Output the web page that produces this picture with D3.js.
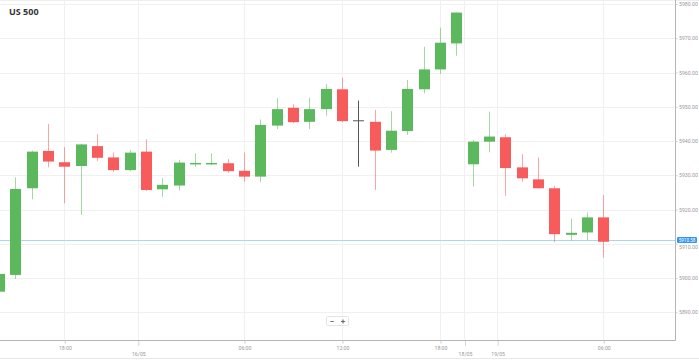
<!DOCTYPE html>
<html>
<head>
<meta charset="utf-8">
<script src="https://cdn.jsdelivr.net/npm/d3@7/dist/d3.min.js"></script>
<style>
  html, body { margin: 0; padding: 0; background: #fff; }
  svg { display: block; }
</style>
</head>
<body>
<svg id="chart" width="699" height="360"></svg>
<script>
// ---- Data (hourly candles) ----
const times = ["14:00","15:00","16:00","17:00","18:00","19:00","20:00","21:00","22:00",
  "00:00","01:00","02:00","03:00","04:00","05:00","06:00","07:00","08:00","09:00","10:00","11:00",
  "12:00","13:00","14:00","15:00","16:00","17:00","18:00","19:00",
  "22:00","23:00",
  "00:00","01:00","02:00","03:00","04:00","05:00","06:00"];
const opens  = [5896.0,5900.9,5926.2,5937.1,5933.8,5932.7,5938.5,5935.2,5931.5,
  5936.9,5925.9,5927.0,5933.4,5933.4,5933.5,5931.3,5929.6,5944.5,5949.7,5945.6,5949.3,
  5955.1,5945.9,5945.6,5937.4,5942.9,5955.1,5960.9,5968.5,
  5933.2,5939.8,
  5941.1,5932.3,5928.8,5926.2,5912.6,5913.3,5917.7];
const highs  = [5902.0,5929.4,5937.2,5945.0,5938.2,5939.2,5942.0,5936.6,5937.4,
  5940.5,5929.1,5934.5,5936.4,5936.4,5934.7,5936.6,5946.3,5952.5,5950.7,5952.6,5956.6,
  5958.5,5951.8,5949.1,5948.7,5957.8,5967.5,5973.1,5977.6,
  5940.3,5948.6,
  5942.0,5936.1,5935.2,5926.9,5917.3,5919.1,5924.2];
const lows   = [5895.0,5899.7,5923.0,5932.3,5921.8,5918.4,5934.2,5931.0,5931.2,
  5925.4,5923.7,5925.5,5932.5,5933.0,5930.7,5928.1,5928.0,5943.5,5945.2,5943.5,5947.4,
  5945.5,5932.5,5925.7,5936.6,5941.8,5953.9,5959.6,5964.9,
  5926.7,5936.7,
  5924.0,5928.1,5926.1,5910.4,5910.9,5911.1,5905.9];
const closes = [5901.2,5926.0,5936.9,5934.0,5932.5,5939.0,5935.1,5931.5,5936.6,
  5925.7,5927.2,5933.7,5933.6,5933.6,5931.2,5929.6,5944.7,5949.3,5945.5,5949.3,5955.2,
  5945.8,5945.9,5937.2,5943.0,5955.2,5960.9,5968.7,5977.5,
  5939.8,5941.3,
  5932.1,5929.1,5926.2,5912.8,5913.2,5917.7,5910.58];

// axis labels
const timeTickIdx    = [4, 15, 21, 27, 37];
const timeTickLabels = ["18:00", "06:00", "12:00", "18:00", "06:00"];
const dateTickIdx    = [8.5, 28.5, 30.5];
const dateTickLabels = ["16/05", "18/05", "19/05"];
const priceTicks = [5980, 5970, 5960, 5950, 5940, 5930, 5920, 5910, 5900, 5890];
const currentPrice = 5910.58;
const title = "US 500";

// ---- Layout ----
const svg = d3.select("#chart");
const W = 699, H = 360;
const plotRight = 675, plotBottom = 340;

const x = d3.scaleLinear().domain([0, 37]).range([-1.0, 603.3]);
const y = d3.scaleLinear().domain([5900, 5940]).range([278, 141]);

const green = "#5cb85c", red = "#f75b5b", doji = "#555";
const font = "Roboto, 'Liberation Sans', sans-serif";

// outer light borders
svg.append("line").attr("x1", 0).attr("x2", W).attr("y1", 0.5).attr("y2", 0.5).attr("stroke", "#eee");
svg.append("line").attr("x1", 0).attr("x2", W).attr("y1", 358.5).attr("y2", 358.5).attr("stroke", "#e8e8e8");

// horizontal grid
const grid = svg.append("g");
grid.selectAll("line.h").data(priceTicks).join("line")
  .attr("x1", 0).attr("x2", plotRight)
  .attr("y1", d => Math.round(y(d)) + 0.5).attr("y2", d => Math.round(y(d)) + 0.5)
  .attr("stroke", "#f0f0f0");
// vertical grid
grid.selectAll("line.v").data(timeTickIdx.concat(dateTickIdx)).join("line")
  .attr("x1", d => Math.round(x(d)) + 0.5).attr("x2", d => Math.round(x(d)) + 0.5)
  .attr("y1", 0).attr("y2", plotBottom)
  .attr("stroke", "#f0f0f0");

// current price line
svg.append("line")
  .attr("x1", 0).attr("x2", plotRight)
  .attr("y1", Math.round(y(currentPrice)) - 1.5).attr("y2", Math.round(y(currentPrice)) - 1.5)
  .attr("stroke", "#a9d5f7").attr("stroke-width", 1);

// candles
const n = times.length;
const data = d3.range(n).map(i => ({ i, o: opens[i], h: highs[i], l: lows[i], c: closes[i] }));
const bw = 10;
const cg = svg.append("g");
data.forEach(d => {
  const cx = Math.round(x(d.i)) + 0.5;
  let col = d.c > d.o ? green : (d.c < d.o ? red : doji);
  if (Math.abs(d.c - d.o) < 0.05) col = doji;
  cg.append("line")
    .attr("x1", cx).attr("x2", cx)
    .attr("y1", y(d.h)).attr("y2", y(d.l))
    .attr("stroke", col).attr("stroke-width", 1)
    .attr("stroke-opacity", col === doji ? 1 : 0.55);
  const top = y(Math.max(d.o, d.c)), bot = y(Math.min(d.o, d.c));
  if (col === doji) {
    cg.append("line").attr("x1", cx - bw / 2 - 0.5).attr("x2", cx + bw / 2 + 0.5)
      .attr("y1", top).attr("y2", top).attr("stroke", doji).attr("stroke-width", 1);
  } else {
    cg.append("rect")
      .attr("x", cx - bw / 2 - 0.5).attr("width", bw + 1)
      .attr("y", top).attr("height", Math.max(1.5, bot - top))
      .attr("fill", col);
  }
});

// axes lines
svg.append("line").attr("x1", plotRight + 0.5).attr("x2", plotRight + 0.5)
  .attr("y1", 0).attr("y2", plotBottom + 0.5).attr("stroke", "#b5b5b5");
svg.append("line").attr("x1", 0).attr("x2", plotRight + 0.5)
  .attr("y1", plotBottom + 0.5).attr("y2", plotBottom + 0.5).attr("stroke", "#b5b5b5");

// right axis
const yAxis = d3.axisRight(y).tickValues(priceTicks).tickSize(2).tickPadding(1.5)
  .tickFormat(d3.format(".2f"));
const ya = svg.append("g").attr("transform", `translate(${plotRight + 0.5},0)`).call(yAxis);
ya.select(".domain").remove();
ya.selectAll("line").attr("stroke", "#ccc");
ya.selectAll("text").attr("font-family", font).attr("font-size", 5.2).attr("fill", "#999");
// the 5910 label sits just under the current-price badge
ya.selectAll("text").filter(d => d === 5910).attr("dy", "0.95em");

// bottom time axis
const xAxis = d3.axisBottom(x).tickValues(timeTickIdx).tickSize(3).tickPadding(2.5)
  .tickFormat((d, k) => timeTickLabels[k]);
const xa = svg.append("g").attr("transform", `translate(0.5,${plotBottom + 0.5})`).call(xAxis);
xa.select(".domain").remove();
xa.selectAll("line").attr("stroke", "#ccc");
xa.selectAll("text").attr("font-family", font).attr("font-size", 5.2).attr("fill", "#999");

// date markers
const dAxis = d3.axisBottom(x).tickValues(dateTickIdx).tickSize(6).tickPadding(6)
  .tickFormat((d, k) => dateTickLabels[k]);
const da = svg.append("g").attr("transform", `translate(0.5,${plotBottom + 0.5})`).call(dAxis);
da.select(".domain").remove();
da.selectAll("line").attr("stroke", "#aaa").attr("stroke-dasharray", "1,1");
da.selectAll("text").attr("font-family", font).attr("font-size", 5.2).attr("fill", "#999");

// current price badge
const cy = Math.round(y(currentPrice)) - 1.5;
svg.append("rect").attr("x", 677).attr("y", cy - 3.5).attr("width", 20).attr("height", 6)
  .attr("rx", 1.2).attr("fill", "#2f96ef");
svg.append("text").attr("x", 687).attr("y", cy + 1.1).attr("text-anchor", "middle")
  .attr("font-family", font).attr("font-size", 4.6).attr("fill", "#fff")
  .text(d3.format(".2f")(currentPrice));

// title
svg.append("text").attr("x", 9).attr("y", 15)
  .attr("font-family", "'Open Sans', sans-serif").attr("font-weight", "bold")
  .attr("font-size", 9).attr("fill", "#333").text(title);

// zoom control
const zc = svg.append("g");
zc.append("rect").attr("x", 326.5).attr("y", 316.5).attr("width", 22).attr("height", 9)
  .attr("fill", "#fff").attr("stroke", "#e4e4e4").attr("rx", 1);
zc.append("text").attr("x", 332).attr("y", 323.5).attr("text-anchor", "middle")
  .attr("font-family", font).attr("font-weight", "bold").attr("font-size", 8).attr("fill", "#666").text("−");
zc.append("text").attr("x", 343).attr("y", 323.8).attr("text-anchor", "middle")
  .attr("font-family", font).attr("font-weight", "bold").attr("font-size", 8).attr("fill", "#666").text("+");
</script>
</body>
</html>
